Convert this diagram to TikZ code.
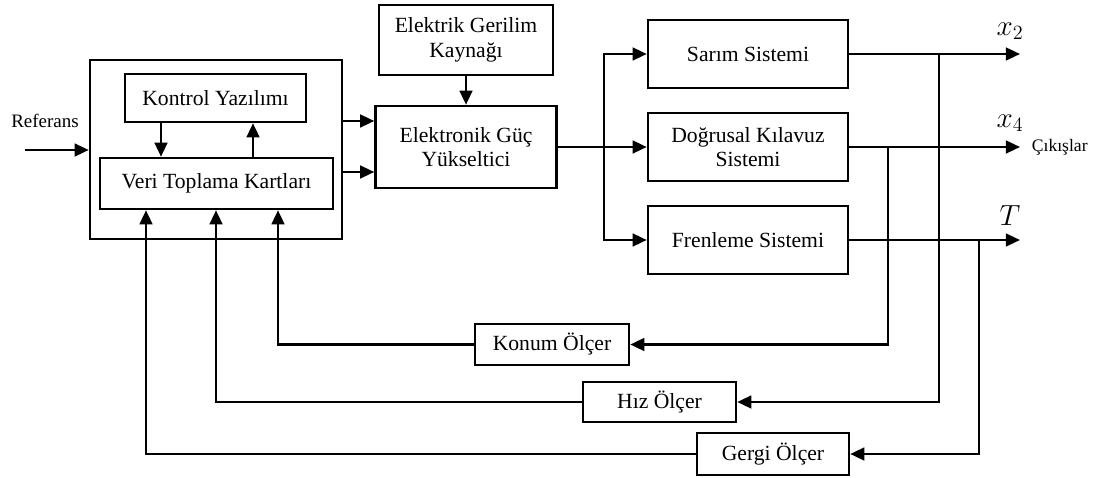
\documentclass[tikz,border=0pt]{standalone}
\usepackage{fontspec}
\setmainfont{Liberation Serif}
\usetikzlibrary{arrows.meta}

\begin{document}
\begin{tikzpicture}[
    blok/.style={draw, line width=1.8pt, align=center, inner sep=2pt, font=\fontsize{15.4}{17.5}\selectfont},
    ok/.style={-{Triangle[length=10pt,width=9pt]}},
    cikis/.style={font=\fontsize{21}{25}\selectfont},
    line width=1.8pt]
\useasboundingbox (0,0) rectangle (27.65,-11.95);
\node[blok, minimum width=6.3cm, minimum height=4.475cm] (dis) at (5.4,-3.7375){};
\node[blok, minimum width=4.525cm, minimum height=1.2cm] (kontrol) at (5.3875,-2.45){Kontrol Yazılımı};
\node[blok, minimum width=5.825cm, minimum height=1.275cm] (veri) at (5.4125,-4.5875){Veri Toplama Kartları};
\node[font=\fontsize{13.5}{16}\selectfont] (ref) at (1.125,-3.025){Referans};
\node[blok, minimum width=4.35cm, minimum height=1.75cm] (kaynak) at (11.65,-1.0){Elektrik Gerilim\\Kaynağı};
\node[blok, minimum width=4.525cm, minimum height=2.05cm] (guc) at (11.65,-3.675){Elektronik Güç\\Yükseltici};
\node[blok, minimum width=5cm, minimum height=1.7cm] (sarim) at (18.7,-1.35){Sarım Sistemi};
\node[blok, minimum width=5cm, minimum height=1.7cm] (kilavuz) at (18.7,-3.675){Doğrusal Kılavuz\\Sistemi};
\node[blok, minimum width=5cm, minimum height=1.7cm] (fren) at (18.7,-6.0){Frenleme Sistemi};
\node[blok, minimum width=3.85cm, minimum height=1.025cm] (konum) at (13.8,-8.6125){Konum Ölçer};
\node[blok, minimum width=3.825cm, minimum height=1.0cm] (hiz) at (16.4875,-10.05){Hız Ölçer};
\node[blok, minimum width=3.8cm, minimum height=1.05cm] (gergi) at (19.325,-11.35){Gergi Ölçer};
\node[cikis] (lx2) at (25.25,-0.78){$x_2$};
\node[cikis] (lx4) at (25.25,-3.08){$x_4$};
\node[cikis] (lT) at (25.25,-5.38){$T$};
\node[font=\fontsize{12.5}{15}\selectfont, anchor=west] (lcik) at (25.65,-3.675){Çıkışlar};
% yardimci noktalar
\coordinate (giris) at (0.625,-3.75);
\coordinate (g1) at (0,-3.025);
\coordinate (g2) at (0,-4.3);
\coordinate (k1) at (4.025,0);
\coordinate (k2) at (6.325,0);
\coordinate (v1) at (3.65,0);
\coordinate (v2) at (5.4,0);
\coordinate (v3) at (6.95,0);
\coordinate (dal) at (15.1,-3.675);
\coordinate (b1) at (22.2,-3.675);
\coordinate (b2) at (23.475,-1.35);
\coordinate (b3) at (24.475,-6.0);
\coordinate (o2) at (25.5,-1.35);
\coordinate (o4) at (25.5,-3.675);
\coordinate (oT) at (25.5,-6.0);
\draw[ok] (giris) -- (dis.west |- giris);
\draw[ok] (kontrol.south -| k1) -- (veri.north -| k1);
\draw[ok] (veri.north -| k2) -- (kontrol.south -| k2);
\draw[ok] (dis.east |- g1) -- (guc.west |- g1);
\draw[ok] (dis.east |- g2) -- (guc.west |- g2);
\draw[ok] (kaynak) -- (guc);
\draw[ok] (guc.east) -- (kilavuz.west);
\draw[ok] (dal) |- (sarim.west);
\draw[ok] (dal) |- (fren.west);
\draw[ok] (sarim.east) -- (o2);
\draw[ok] (kilavuz.east) -- (o4);
\draw[ok] (fren.east) -- (oT);
\draw[ok] (b1) |- (konum.east);
\draw[ok] (b2) |- (hiz.east);
\draw[ok] (b3) |- (gergi.east);
\draw[ok] (konum.west) -| (veri.south -| v3);
\draw[ok] (hiz.west) -| (veri.south -| v2);
\draw[ok] (gergi.west) -| (veri.south -| v1);
\end{tikzpicture}
\end{document}
